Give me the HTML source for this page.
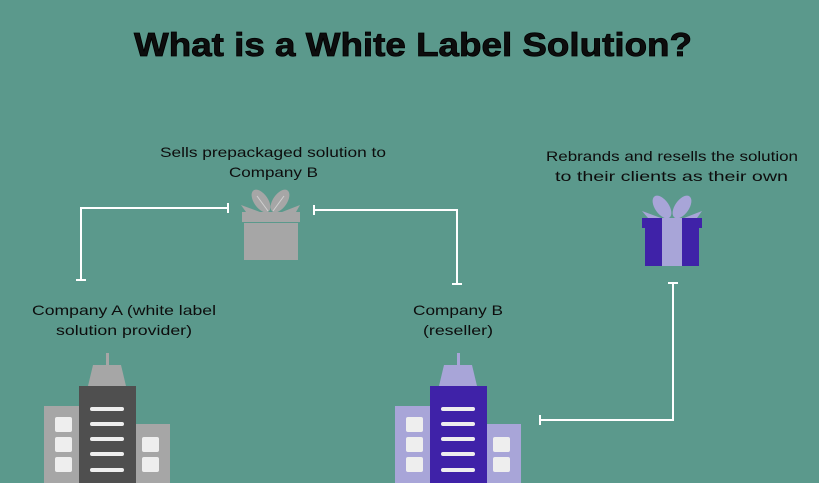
<!DOCTYPE html>
<html><head><meta charset="utf-8"><style>
html,body{margin:0;padding:0;background:#5b998c;}
svg{display:block;}
text{font-family:"Liberation Sans",sans-serif;fill:#0d0d0d;}
</style></head><body>
<svg width="819" height="483" viewBox="0 0 819 483" xmlns="http://www.w3.org/2000/svg">
<rect width="819" height="483" fill="#5b998c"/>
<text x="134" y="56" font-size="33" font-weight="bold" textLength="558" lengthAdjust="spacingAndGlyphs" fill="#000" stroke="#000" stroke-width="0.8">What is a White Label Solution?</text>
<g font-size="14">
<text x="160" y="157" textLength="226" lengthAdjust="spacingAndGlyphs">Sells prepackaged solution to</text>
<text x="229" y="177" textLength="89" lengthAdjust="spacingAndGlyphs">Company B</text>
<text x="546" y="161" textLength="252" lengthAdjust="spacingAndGlyphs">Rebrands and resells the solution</text>
<text x="555" y="181" textLength="233" lengthAdjust="spacingAndGlyphs">to their clients as their own</text>
<text x="32" y="315" textLength="184" lengthAdjust="spacingAndGlyphs">Company A (white label</text>
<text x="56" y="335" textLength="136" lengthAdjust="spacingAndGlyphs">solution provider)</text>
<text x="413" y="315" textLength="90" lengthAdjust="spacingAndGlyphs">Company B</text>
<text x="423" y="335" textLength="70" lengthAdjust="spacingAndGlyphs">(reseller)</text>
</g>
<g stroke="#fff" stroke-width="2" fill="none">
<polyline points="228,208 81,208 81,280"/>
<line x1="228" y1="203" x2="228" y2="213"/>
<line x1="76" y1="280" x2="86" y2="280"/>
<polyline points="314,210 457,210 457,284"/>
<line x1="314" y1="205" x2="314" y2="215"/>
<line x1="452" y1="284" x2="462" y2="284"/>
<polyline points="540,420 673,420 673,283"/>
<line x1="540" y1="415" x2="540" y2="425"/>
<line x1="668" y1="283" x2="678" y2="283"/>
</g>
<!-- gray gift -->
<g fill="#a6a6a6">
<ellipse cx="261" cy="201" rx="7" ry="13" transform="rotate(-35 261 201)"/>
<ellipse cx="280" cy="201" rx="7" ry="13" transform="rotate(35 280 201)"/>
<polygon points="241,205 260,212 246,212"/>
<polygon points="300,205 282,212 296,212"/>
<rect x="242" y="212" width="58" height="10"/>
<rect x="244" y="223" width="54" height="37"/>
</g>
<g stroke="#d0d0d0" stroke-width="1" fill="none">
<path d="M268,211 L257,196"/><path d="M273,211 L284,196"/>
</g>
<!-- purple gift -->
<ellipse cx="662" cy="207" rx="7" ry="13" transform="rotate(-35 662 207)" fill="#a8a5d8"/>
<ellipse cx="682" cy="207" rx="7" ry="13" transform="rotate(35 682 207)" fill="#a8a5d8"/>
<polygon points="642,211 661,218 648,218" fill="#a8a5d8"/>
<polygon points="702,211 684,218 697,218" fill="#a8a5d8"/>
<rect x="642" y="218" width="60" height="10" fill="#3f22a8"/>
<rect x="645" y="228" width="54" height="38" fill="#3f22a8"/>
<rect x="662" y="218" width="20" height="48" fill="#a8a5d8"/>
<!-- building A -->
<g>
<rect x="106" y="353" width="3" height="14" fill="#a6a6a6"/>
<polygon points="93,365 121,365 126,386 88,386" fill="#a6a6a6"/>
<rect x="44" y="406" width="36" height="77" fill="#a6a6a6"/>
<rect x="135" y="424" width="35" height="59" fill="#a6a6a6"/>
<rect x="79" y="386" width="57" height="97" fill="#4f4f4f"/>
<g fill="#eeeeee">
<rect x="55" y="417" width="17" height="15" rx="2"/><rect x="55" y="437" width="17" height="15" rx="2"/><rect x="55" y="457" width="17" height="15" rx="2"/>
<rect x="142" y="437" width="17" height="15" rx="2"/><rect x="142" y="457" width="17" height="15" rx="2"/>
<rect x="90" y="407" width="34" height="4" rx="2"/><rect x="90" y="422" width="34" height="4" rx="2"/><rect x="90" y="437" width="34" height="4" rx="2"/><rect x="90" y="452" width="34" height="4" rx="2"/><rect x="90" y="468" width="34" height="4" rx="2"/>
</g>
</g>
<!-- building B -->
<g transform="translate(351,0)">
<rect x="106" y="353" width="3" height="14" fill="#a8a5d8"/>
<polygon points="93,365 121,365 126,386 88,386" fill="#a8a5d8"/>
<rect x="44" y="406" width="36" height="77" fill="#a8a5d8"/>
<rect x="135" y="424" width="35" height="59" fill="#a8a5d8"/>
<rect x="79" y="386" width="57" height="97" fill="#3f22a8"/>
<g fill="#eeeeee">
<rect x="55" y="417" width="17" height="15" rx="2"/><rect x="55" y="437" width="17" height="15" rx="2"/><rect x="55" y="457" width="17" height="15" rx="2"/>
<rect x="142" y="437" width="17" height="15" rx="2"/><rect x="142" y="457" width="17" height="15" rx="2"/>
<rect x="90" y="407" width="34" height="4" rx="2"/><rect x="90" y="422" width="34" height="4" rx="2"/><rect x="90" y="437" width="34" height="4" rx="2"/><rect x="90" y="452" width="34" height="4" rx="2"/><rect x="90" y="468" width="34" height="4" rx="2"/>
</g>
</g>
</svg>
</body></html>
